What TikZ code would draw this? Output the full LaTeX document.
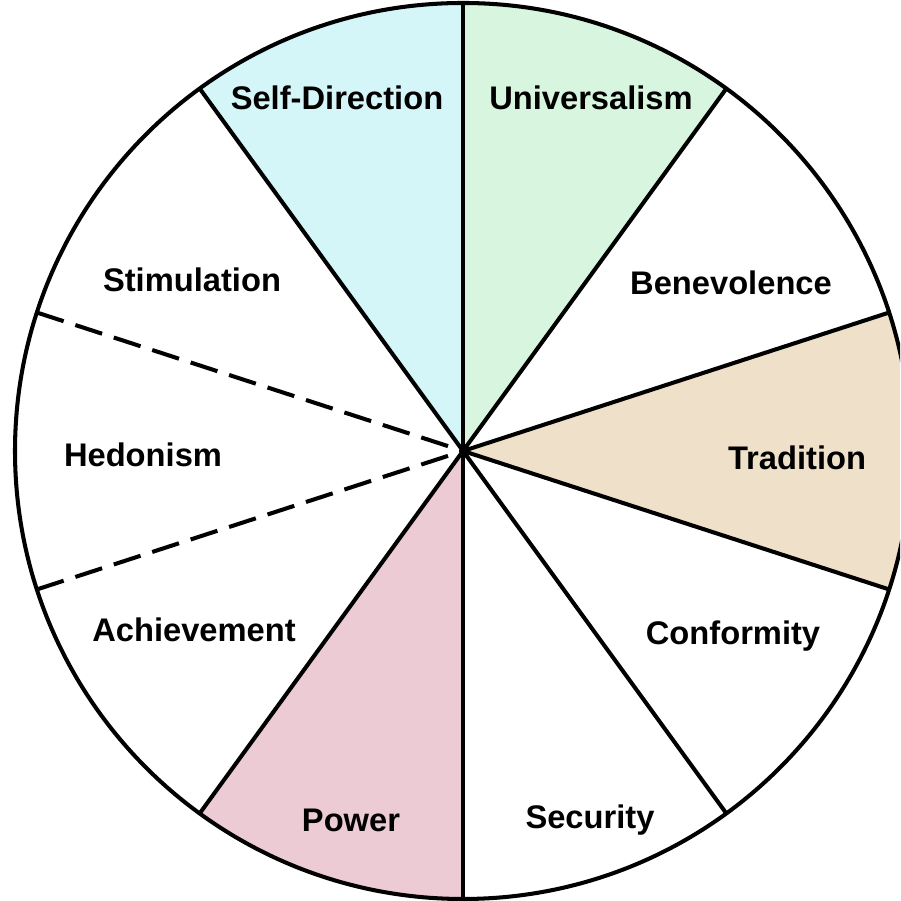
\documentclass[tikz,border=0pt]{standalone}
\usepackage{fontspec}
\setmainfont{Liberation Sans}
\usetikzlibrary{calc}
\definecolor{selfcyan}{HTML}{D5F6F9}
\definecolor{univgreen}{HTML}{D8F6DF}
\definecolor{tradtan}{HTML}{EFE0C9}
\definecolor{powerpink}{HTML}{EDCBD5}
\tikzstyle{value} = [font=\bfseries\fontsize{18.6}{22}\selectfont, anchor=base, inner sep=0pt]
\tikzstyle{spoke} = [line width=2.3pt]
\tikzstyle{dashspoke} = [line width=2.3pt, dash pattern=on 16pt off 7pt]
\begin{document}
\begin{tikzpicture}[x=0.02cm, y=0.02cm]
    \useasboundingbox (0,0) rectangle (900,901);
    \fill[white] (0,0) rectangle (900,901);
    \clip (0,0) rectangle (900,901);
    \coordinate (c) at (463,450);

    % coloured sectors
    \fill[selfcyan] (c) -- ++(90:448) arc (90:126:448) -- cycle;
    \fill[univgreen] (c) -- ++(54:448) arc (54:90:448) -- cycle;
    \fill[tradtan] (c) -- ++(-18:448) arc (-18:18:448) -- cycle;
    \fill[powerpink] (c) -- ++(234:448) arc (234:270:448) -- cycle;

    % rim points of the spokes
    \coordinate (r18) at ($(c)+(18:448)$);
    \coordinate (r54) at ($(c)+(54:448)$);
    \coordinate (r90) at ($(c)+(90:448)$);
    \coordinate (r126) at ($(c)+(126:448)$);
    \coordinate (r162) at ($(c)+(162:448)$);
    \coordinate (r198) at ($(c)+(198:448)$);
    \coordinate (r234) at ($(c)+(234:448)$);
    \coordinate (r270) at ($(c)+(270:448)$);
    \coordinate (r306) at ($(c)+(306:448)$);
    \coordinate (r342) at ($(c)+(342:448)$);

    \draw[spoke] (c) -- (r18);
    \draw[spoke] (c) -- (r54);
    \draw[spoke] (c) -- (r90);
    \draw[spoke] (c) -- (r126);
    \draw[dashspoke] (r162) -- (c);
    \draw[dashspoke] (r198) -- (c);
    \draw[spoke] (c) -- (r234);
    \draw[spoke] (c) -- (r270);
    \draw[spoke] (c) -- (r306);
    \draw[spoke] (c) -- (r342);
    \draw[spoke] (c) circle (448);

    % value labels
    \node[value] (selfdir) at (337,791) {Self-Direction};
    \node[value] (univ) at (591,791) {Universalism};
    \node[value] (stim) at (192,609) {Stimulation};
    \node[value] (bene) at (731,606) {Benevolence};
    \node[value] (hedo) at (143,434) {Hedonism};
    \node[value] (trad) at (797,431) {Tradition};
    \node[value] (achi) at (194,259) {Achievement};
    \node[value] (conf) at (733,256) {Conformity};
    \node[value] (powr) at (351,69) {Power};
    \node[value] (secu) at (590,72) {Security};
\end{tikzpicture}
\end{document}
